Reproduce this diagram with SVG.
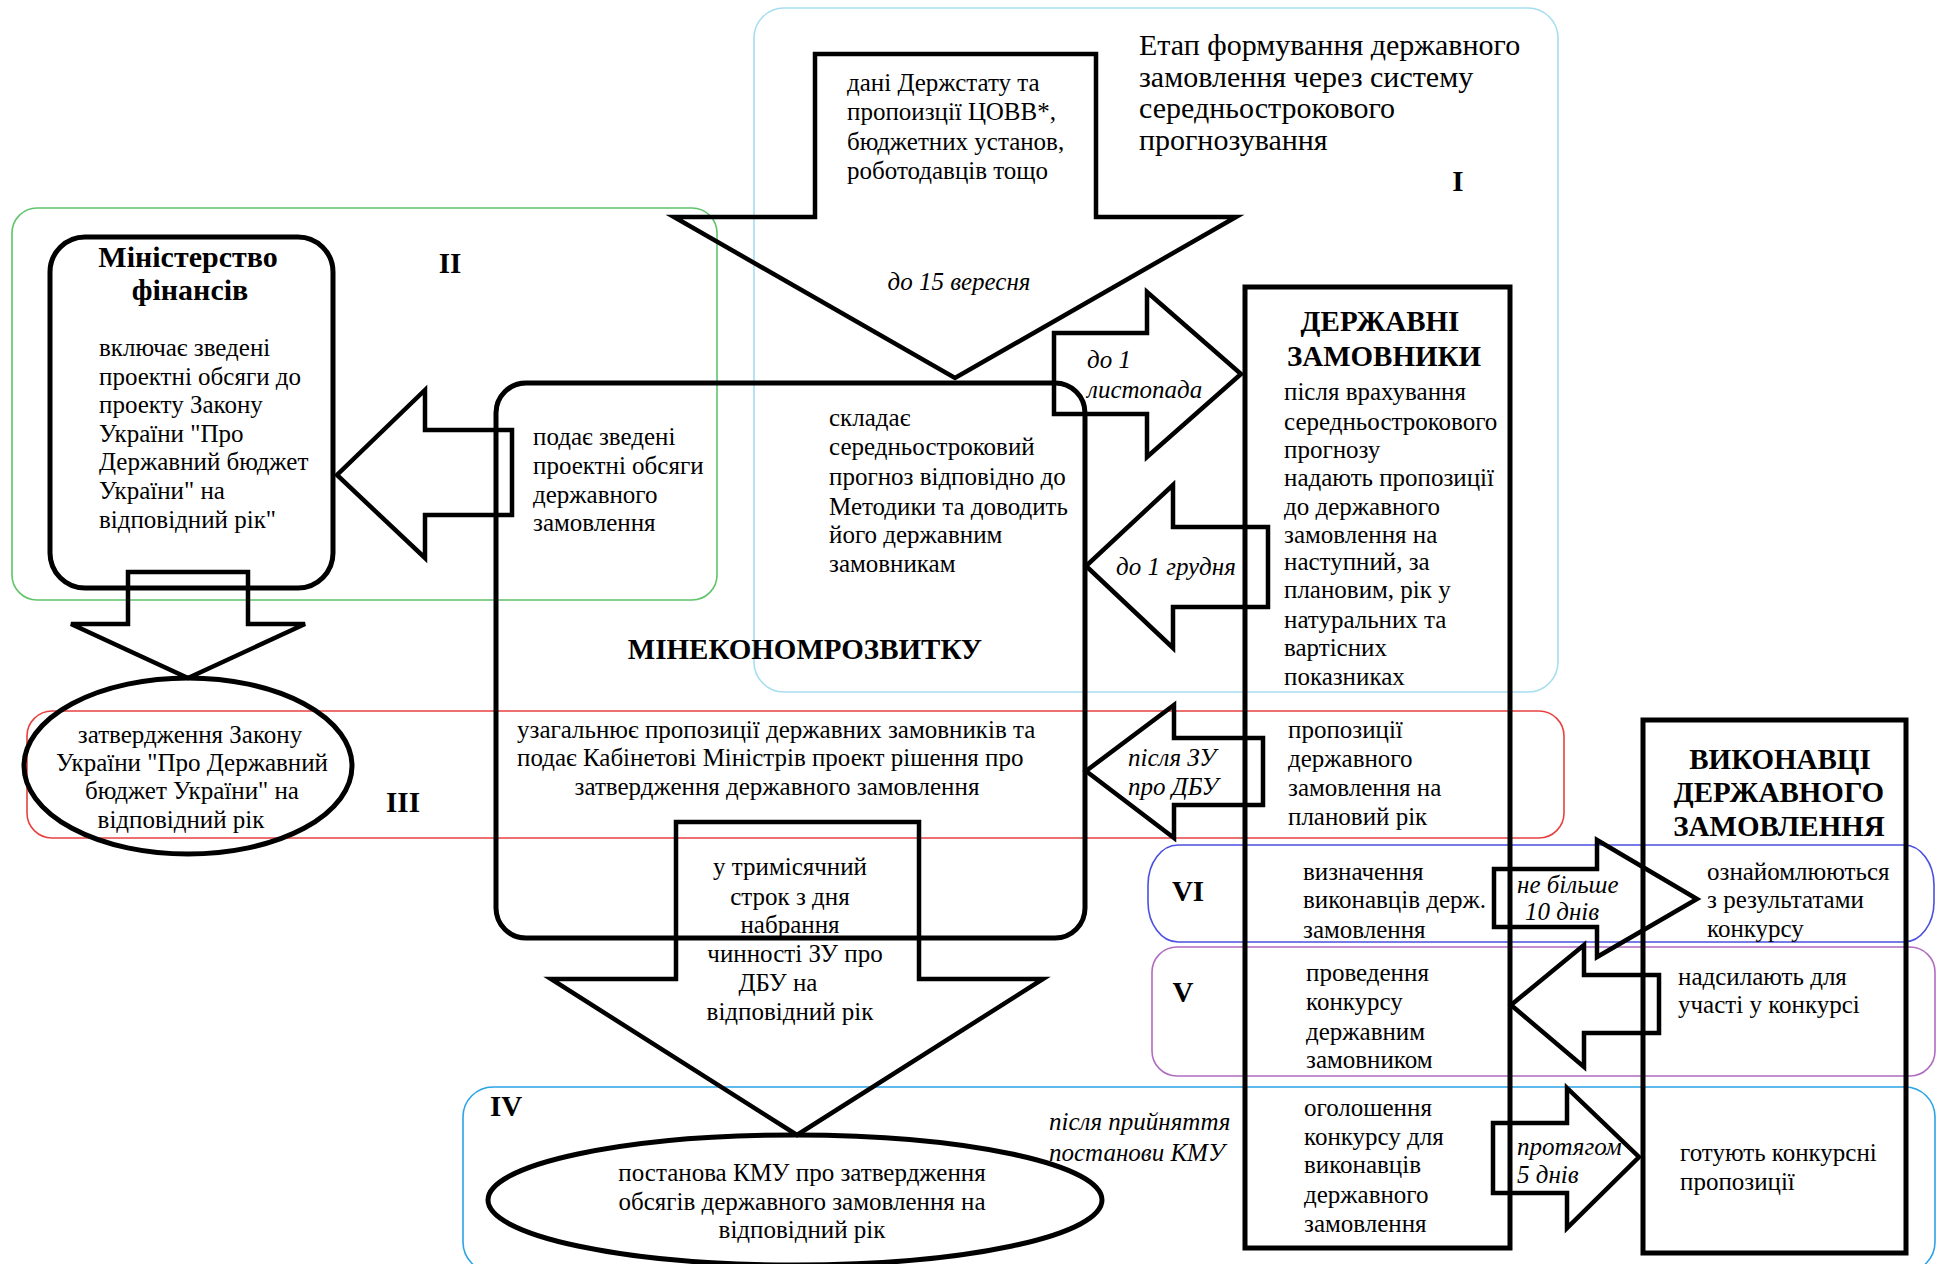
<svg xmlns="http://www.w3.org/2000/svg" width="1939" height="1264" viewBox="0 0 1939 1264">
<style>
.bg{fill:#fff}
.fr{fill:none;stroke-width:1.6}
.nd{fill:none;stroke:#000;stroke-width:5}
.ar{fill:none;stroke:#000;stroke-width:4.5;stroke-linejoin:miter}
text{font-family:'Liberation Serif','DejaVu Serif',serif;font-size:25px;fill:#000}
.h{font-weight:bold;font-size:29px}
.h30{font-size:30px}
.ti{font-size:30px}
.it{font-style:italic}
.m{text-anchor:middle}
</style>
<rect class="bg" x="0" y="0" width="1939" height="1264"/>
<g id="frames">
<rect id="stage-I" class="fr" x="754" y="8" width="804" height="684" rx="30" stroke="#a6def0"/>
<rect id="stage-II" class="fr" x="12" y="208" width="705" height="392" rx="25" stroke="#5ec46a"/>
<rect id="stage-III" class="fr" x="27" y="711" width="1537" height="127" rx="25" stroke="#e84040"/>
<rect id="stage-VI" class="fr" x="1148" y="845" width="786" height="97" rx="30" ry="40" stroke="#4a50e0"/>
<rect id="stage-V" class="fr" x="1152" y="947" width="783" height="129" rx="25" stroke="#b06cc0"/>
<rect id="stage-IV" class="fr" x="463" y="1087" width="1472" height="185" rx="30" stroke="#2aa4e6"/>
</g>
<g id="connectors">
<polygon class="ar" points="815,54 1096,54 1096,217 1236,217 955,378 674,217 815,217"/>
<polygon class="ar" points="1054,333 1147,333 1147,292 1241,374 1147,457 1147,414 1054,414"/>
<polygon class="ar" points="1268,527 1173,527 1173,485 1086,566 1173,648 1173,607 1268,607"/>
<polygon class="ar" points="512,430 425,430 425,390 337,475 425,558 425,515 512,515"/>
<polygon class="ar" points="128,572 248,572 248,624 305,624 188,678 71,624 128,624"/>
<polygon class="ar" points="1263,738 1174,738 1174,705 1086,771 1174,838 1174,805 1263,805"/>
<polygon class="ar" points="676,822 919,822 919,979 1043,979 797,1135 551,979 676,979"/>
<polygon class="ar" points="1494,869 1597,869 1597,840 1697,899 1597,957 1597,927 1494,927"/>
<polygon class="ar" points="1659,975 1584,975 1584,945 1511,1005 1584,1067 1584,1033 1659,1033"/>
<polygon class="ar" points="1493,1123 1567,1123 1567,1088 1639,1157 1567,1228 1567,1193 1493,1193"/>
<text x="847" y="91">дані Держстату та</text>
<text x="847" y="120">пропоизції ЦОВВ*,</text>
<text x="847" y="150">бюджетних установ,</text>
<text x="847" y="179">роботодавців тощо</text>
<text class="it m" x="959" y="290">до 15 вересня</text>
<text class="it" x="1087" y="368">до 1</text>
<text class="it" x="1087" y="398">листопада</text>
<text class="it" x="1116" y="575">до 1 грудня</text>
<text class="it" x="1128" y="766">після ЗУ</text>
<text class="it" x="1128" y="795">про ДБУ</text>
<text class="m" x="790" y="875">у тримісячний</text>
<text class="m" x="790" y="905">строк з дня</text>
<text class="m" x="790" y="933">набрання</text>
<text class="m" x="795" y="962">чинності ЗУ про</text>
<text class="m" x="778" y="991">ДБУ на</text>
<text class="m" x="790" y="1020">відповідний рік</text>
<text class="it" x="1517" y="893">не більше</text>
<text class="it" x="1525" y="920">10 днів</text>
<text class="it" x="1517" y="1155">протягом</text>
<text class="it" x="1517" y="1183">5 днів</text>
<text class="it" x="1049" y="1130">після прийняття</text>
<text class="it" x="1049" y="1161">постанови КМУ</text>
</g>
<g id="labels">
<text class="ti" x="1139" y="55">Етап формування державного</text>
<text class="ti" x="1139" y="87">замовлення через систему</text>
<text class="ti" x="1139" y="118">середньострокового</text>
<text class="ti" x="1139" y="150">прогнозування</text>
<text class="h m" x="1458" y="191">I</text>
<text class="h m" x="450" y="273">II</text>
<text class="h m" x="403" y="812">III</text>
<text class="h m" x="506" y="1116">IV</text>
<text class="h m" x="1183" y="1002">V</text>
<text class="h m" x="1188" y="901">VI</text>
</g>
<g id="minfin">
<rect class="nd" x="50" y="237" width="283" height="351" rx="35"/>
<text class="h h30 m" x="188" y="267">Міністерство</text>
<text class="h h30 m" x="190" y="300">фінансів</text>
<text x="99" y="356">включає зведені</text>
<text x="99" y="385">проектні обсяги до</text>
<text x="99" y="413">проекту Закону</text>
<text x="99" y="442">України "Про</text>
<text x="99" y="470">Державний бюджет</text>
<text x="99" y="499">України" на</text>
<text x="99" y="528">відповідний рік"</text>
</g>
<g id="mineconom">
<rect class="nd" x="496" y="383" width="589" height="555" rx="30"/>
<text x="533" y="445">подає зведені</text>
<text x="533" y="474">проектні обсяги</text>
<text x="533" y="503">державного</text>
<text x="533" y="531">замовлення</text>
<text x="829" y="426">складає</text>
<text x="829" y="455">середньостроковий</text>
<text x="829" y="485">прогноз відповідно до</text>
<text x="829" y="515">Методики та доводить</text>
<text x="829" y="543">його державним</text>
<text x="829" y="572">замовникам</text>
<text class="h m" x="805" y="659">МІНЕКОНОМРОЗВИТКУ</text>
<text x="517" y="738">узагальнює пропозиції державних замовників та</text>
<text x="517" y="766">подає Кабінетові Міністрів проект рішення про</text>
<text class="m" x="777" y="795">затвердження державного замовлення</text>
</g>
<g id="law">
<ellipse class="nd" cx="188" cy="766" rx="164" ry="88"/>
<text class="m" x="190" y="743">затвердження Закону</text>
<text class="m" x="192" y="771">України "Про Державний</text>
<text class="m" x="192" y="799">бюджет України" на</text>
<text class="m" x="181" y="828">відповідний рік</text>
</g>
<g id="kmu">
<ellipse class="nd" cx="795" cy="1200" rx="307" ry="65"/>
<text class="m" x="802" y="1181">постанова КМУ про затвердження</text>
<text class="m" x="802" y="1210">обсягів державного замовлення на</text>
<text class="m" x="802" y="1238">відповідний рік</text>
</g>
<g id="customers">
<rect class="nd" x="1245" y="287" width="265" height="961"/>
<text class="h m" x="1380" y="331">ДЕРЖАВНІ</text>
<text class="h m" x="1384" y="366">ЗАМОВНИКИ</text>
<text x="1284" y="400">після врахування</text>
<text x="1284" y="430">середньострокового</text>
<text x="1284" y="458">прогнозу</text>
<text x="1284" y="486">надають пропозиції</text>
<text x="1284" y="515">до державного</text>
<text x="1284" y="543">замовлення  на</text>
<text x="1284" y="570">наступний, за</text>
<text x="1284" y="598">плановим, рік у</text>
<text x="1284" y="628">натуральних та</text>
<text x="1284" y="656">вартісних</text>
<text x="1284" y="685">показниках</text>
<text x="1288" y="738">пропозиції</text>
<text x="1288" y="767">державного</text>
<text x="1288" y="796">замовлення на</text>
<text x="1288" y="825">плановий рік</text>
<text x="1303" y="880">визначення</text>
<text x="1303" y="908">виконавців держ.</text>
<text x="1303" y="938">замовлення</text>
<text x="1306" y="981">проведення</text>
<text x="1306" y="1010">конкурсу</text>
<text x="1306" y="1040">державним</text>
<text x="1306" y="1068">замовником</text>
<text x="1304" y="1116">оголошення</text>
<text x="1304" y="1145">конкурсу для</text>
<text x="1304" y="1173">виконавців</text>
<text x="1304" y="1203">державного</text>
<text x="1304" y="1232">замовлення</text>
</g>
<g id="contractors">
<rect class="nd" x="1643" y="720" width="263" height="533"/>
<text class="h m" x="1780" y="769">ВИКОНАВЦІ</text>
<text class="h m" x="1779" y="802">ДЕРЖАВНОГО</text>
<text class="h m" x="1779" y="836">ЗАМОВЛЕННЯ</text>
<text x="1707" y="880">ознайомлюються</text>
<text x="1707" y="908">з результатами</text>
<text x="1707" y="937">конкурсу</text>
<text x="1678" y="985">надсилають для</text>
<text x="1678" y="1013">участі у конкурсі</text>
<text x="1680" y="1161">готують конкурсні</text>
<text x="1680" y="1190">пропозиції</text>
</g>
</svg>
